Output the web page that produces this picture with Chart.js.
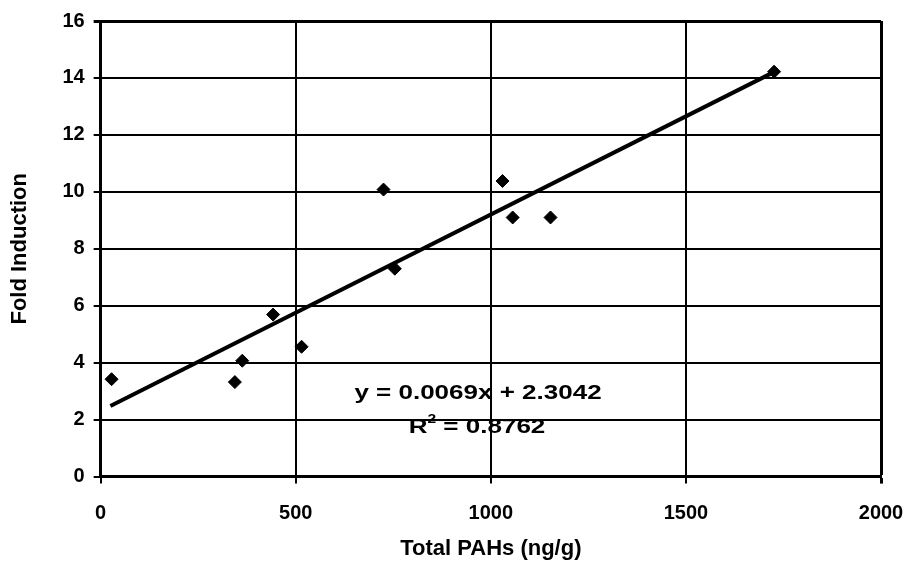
<!DOCTYPE html>
<html>
<head>
<meta charset="utf-8">
<script src="https://cdn.jsdelivr.net/npm/chart.js@4.4.0/dist/chart.umd.min.js"></script>
<style>
  html, body { margin: 0; padding: 0; background: #fff; }
  #wrap { width: 910px; height: 567px; }
</style>
</head>
<body>
<div id="wrap"><canvas id="grafico" width="910" height="567"></canvas></div>
<script>
// valores
var pahs = [28, 344, 363, 442, 515, 725, 754, 1030, 1056, 1153, 1726];
var fold = [3.42, 3.32, 4.07, 5.69, 4.56, 10.08, 7.30, 10.38, 9.10, 9.10, 14.22];
var trendX = [25, 1720];
var trendY = [2.48, 14.17];
var eqTexto = "y = 0.0069x + 2.3042";
var r2Texto = "0.8762";

var fonte = "'Liberation Sans', Arial, sans-serif";

var pontos = [];
for (var i = 0; i < pahs.length; i++) pontos.push({x: pahs[i], y: fold[i]});
var linha = [];
for (var j = 0; j < trendX.length; j++) linha.push({x: trendX[j], y: trendY[j]});

// linha de grade da borda (topo / direita) mais grossa
function larguraGrade(c) {
  var n = c.scale.ticks.length;
  return c.index === n - 1 ? 3 : 2;
}

// texto da equacao, esticado na horizontal como no original
var equacao = {
  id: "equacao",
  afterDatasetsDraw: function(chart) {
    var ctx = chart.ctx;
    var esc = 1.3;
    ctx.save();
    ctx.fillStyle = "#000";
    ctx.textBaseline = "middle";
    ctx.scale(esc, 1);
    ctx.font = "bold 20px " + fonte;
    ctx.textAlign = "center";
    ctx.fillText(eqTexto, 478 / esc, 393);
    var a = "R", b = " = " + r2Texto;
    var wa = ctx.measureText(a).width;
    var wb = ctx.measureText(b).width;
    ctx.font = "bold 12px " + fonte;
    var ws = ctx.measureText("2").width;
    var x0 = 477 / esc - (wa + ws + wb) / 2;
    ctx.textAlign = "left";
    ctx.font = "bold 20px " + fonte;
    ctx.fillText(a, x0, 427);
    ctx.font = "bold 12px " + fonte;
    ctx.fillText("2", x0 + wa, 420);
    ctx.font = "bold 20px " + fonte;
    ctx.fillText(b, x0 + wa + ws, 427);
    ctx.restore();
  }
};

new Chart("grafico", {
  type: "scatter",
  data: {
    datasets: [{
      data: pontos,
      backgroundColor: "#000",
      borderColor: "#000",
      pointStyle: "rectRot",
      pointRadius: 6.5,
      pointHoverRadius: 6.5
    }, {
      type: "line",
      data: linha,
      borderColor: "#000",
      borderWidth: 4,
      pointRadius: 0,
      fill: false,
      tension: 0
    }]
  },
  options: {
    responsive: false,
    animation: false,
    layout: {padding: {top: 15, right: 29, bottom: 5, left: 5}},
    plugins: {legend: {display: false}, tooltip: {enabled: false}},
    scales: {
      x: {
        type: "linear",
        min: 0, max: 2000,
        afterFit: function(s) { s.paddingRight = 0; },
        ticks: {stepSize: 500, color: "#000", font: {family: fonte, size: 20, weight: "bold"}, padding: 18,
          callback: function(v) { return String(v); }},
        grid: {color: "#000", lineWidth: larguraGrade, tickLength: 7},
        border: {color: "#000", width: 3},
        title: {display: true, text: "Total PAHs (ng/g)", color: "#000", font: {family: fonte, size: 22, weight: "bold"}, padding: {top: -8, bottom: 0}}
      },
      y: {
        min: 0, max: 16,
        ticks: {stepSize: 2, color: "#000", font: {family: fonte, size: 20, weight: "bold"}, padding: 9},
        grid: {color: "#000", lineWidth: larguraGrade, tickLength: 7},
        border: {color: "#000", width: 3},
        title: {display: true, text: "Fold Induction", color: "#000", font: {family: fonte, size: 22, weight: "bold"}, padding: {top: 2, bottom: 20}}
      }
    }
  },
  plugins: [equacao]
});
</script>
</body>
</html>
